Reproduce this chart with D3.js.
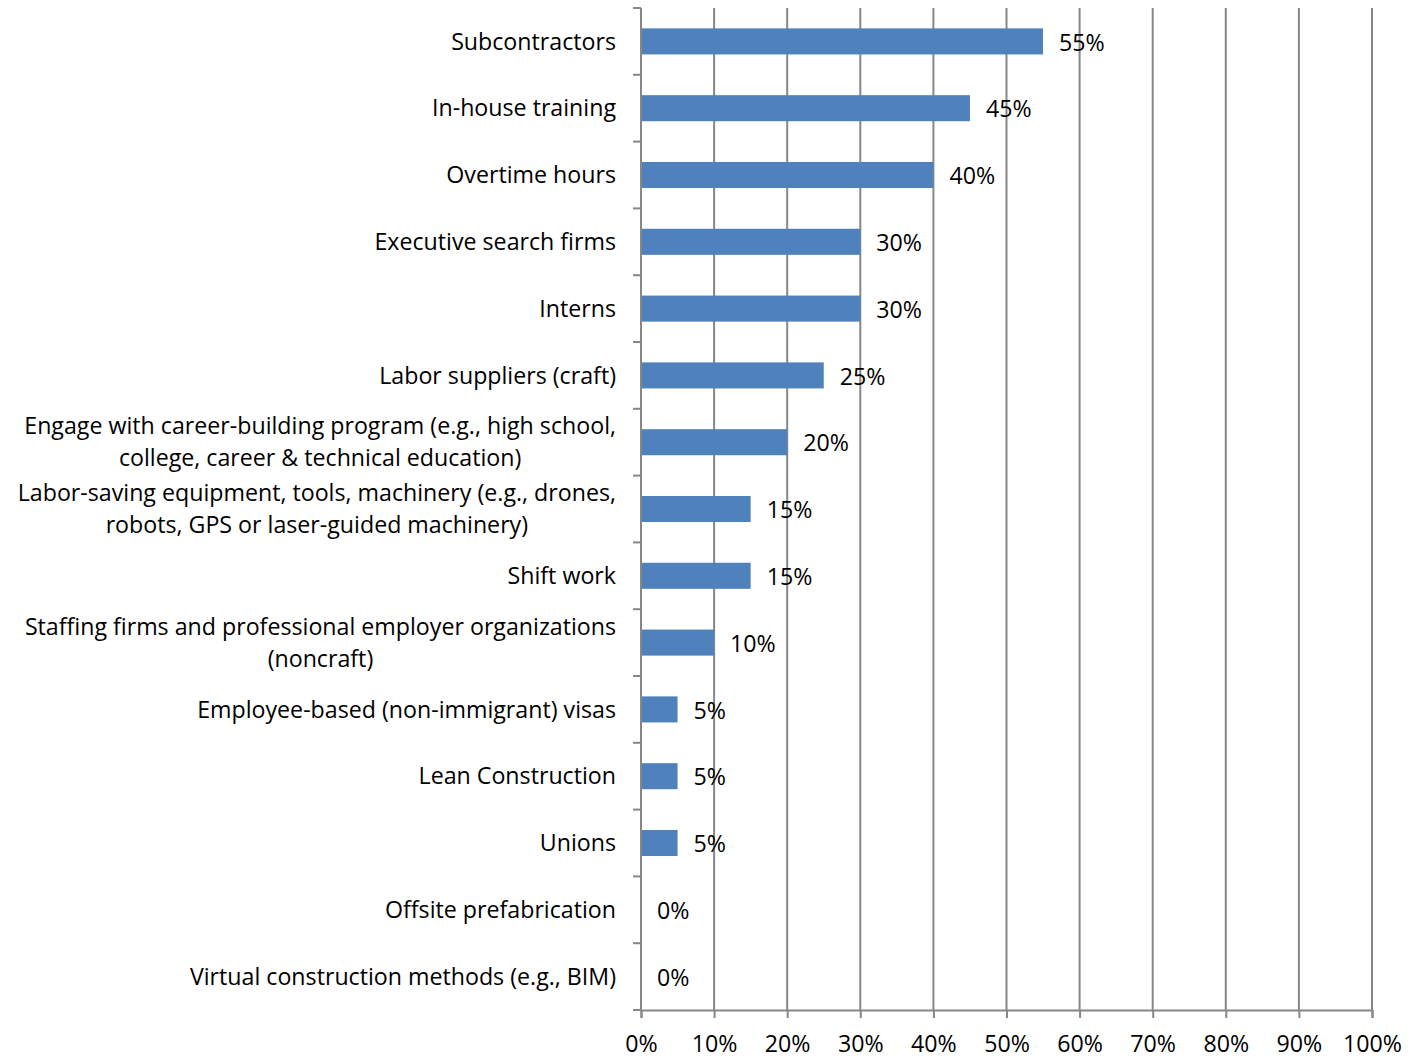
<!DOCTYPE html>
<html>
<head>
<meta charset="utf-8">
<script src="https://cdn.jsdelivr.net/npm/d3@7"></script>
<style>
  html, body { margin: 0; padding: 0; background: #fff; }
  svg text { font-family: "Open Sans", Lato, sans-serif; fill: #000; }
</style>
</head>
<body>
<svg id="chart" width="1418" height="1059"></svg>
<script>
// Recruiting / staffing strategies, share of respondents
const categories = [
  ["Subcontractors"],
  ["In-house training"],
  ["Overtime hours"],
  ["Executive search firms"],
  ["Interns"],
  ["Labor suppliers (craft)"],
  ["Engage with career-building program (e.g., high school,", "college, career & technical education)"],
  ["Labor-saving equipment, tools, machinery (e.g., drones,", "robots, GPS or laser-guided machinery)"],
  ["Shift work"],
  ["Staffing firms and professional employer organizations", "(noncraft)"],
  ["Employee-based (non-immigrant) visas"],
  ["Lean Construction"],
  ["Unions"],
  ["Offsite prefabrication"],
  ["Virtual construction methods (e.g., BIM)"]
];
const values = [55, 45, 40, 30, 30, 25, 20, 15, 15, 10, 5, 5, 5, 0, 0];
const xTicks = [0, 10, 20, 30, 40, 50, 60, 70, 80, 90, 100];

const svg = d3.select("#chart");
const margin = { left: 641, right: 46, top: 8, bottom: 49 };
const W = 1418, H = 1059;
const plotW = W - margin.left - margin.right;
const plotH = H - margin.top - margin.bottom;
const fontSize = 23.2;

const x = d3.scaleLinear().domain([0, 100]).range([margin.left, margin.left + plotW]);
const y = d3.scaleBand().domain(d3.range(categories.length))
  .range([margin.top, margin.top + plotH]).paddingInner(0.61).paddingOuter(0.305);
const band = d3.scaleBand().domain(d3.range(categories.length))
  .range([margin.top, margin.top + plotH]);

const gridColor = "#878787";

// vertical gridlines
svg.append("g").selectAll("line").data(xTicks.slice(1)).join("line")
  .attr("x1", d => x(d)).attr("x2", d => x(d))
  .attr("y1", margin.top).attr("y2", margin.top + plotH)
  .attr("stroke", gridColor).attr("stroke-width", 2);

// bars
svg.append("g").selectAll("rect").data(values).join("rect")
  .attr("x", x(0))
  .attr("y", (d, i) => y(i))
  .attr("width", d => x(d) - x(0))
  .attr("height", y.bandwidth())
  .attr("fill", "#4F81BD");

// value labels
svg.append("g").selectAll("text").data(values).join("text")
  .attr("x", d => x(d) + 16)
  .attr("y", (d, i) => y(i) + y.bandwidth() / 2 + 1)
  .attr("dy", "0.35em")
  .attr("font-size", fontSize)
  .text(d => d + "%");

// bottom axis
const xAxis = d3.axisBottom(x).tickValues(xTicks).tickFormat(d => d + "%").tickSize(8).tickPadding(18);
const gx = svg.append("g").attr("transform", `translate(0,${margin.top + plotH})`).call(xAxis);
gx.select(".domain").attr("stroke", gridColor).attr("stroke-width", 2);
gx.selectAll(".tick line").attr("stroke", gridColor).attr("stroke-width", 2);
gx.selectAll(".tick text").attr("font-size", fontSize).attr("font-family", "'Open Sans', Lato, sans-serif").attr("fill", "#000");

// left axis with category separators
const leftAxis = svg.append("g");
leftAxis.append("line")
  .attr("x1", x(0)).attr("x2", x(0))
  .attr("y1", margin.top).attr("y2", margin.top + plotH)
  .attr("stroke", gridColor).attr("stroke-width", 2);
leftAxis.selectAll("line.sep").data(d3.range(categories.length + 1)).join("line")
  .attr("class", "sep")
  .attr("x1", x(0) - 8).attr("x2", x(0))
  .attr("y1", i => margin.top + i * band.step())
  .attr("y2", i => margin.top + i * band.step())
  .attr("stroke", gridColor).attr("stroke-width", 2);

// category labels
const lineH = 32;
const lbl = svg.append("g").selectAll("text").data(categories).join("text")
  .attr("text-anchor", "middle")
  .attr("font-size", fontSize)
  .attr("y", (d, i) => band(i) + band.bandwidth() / 2);
lbl.each(function (lines, i) {
  const t = d3.select(this);
  const n = lines.length;
  // multi-line labels are centred within their own block
  lines.forEach((s, k) => {
    t.append("tspan")
      .attr("y", band(i) + band.bandwidth() / 2 + (k - (n - 1) / 2) * lineH)
      .attr("dy", "0.35em")
      .text(s);
  });
});
// right-align the label block at a fixed gap from the axis, keeping lines centred
lbl.each(function () {
  const t = d3.select(this);
  const wmax = d3.max(t.selectAll("tspan").nodes(), n => n.getComputedTextLength());
  t.selectAll("tspan").attr("x", x(0) - 25 - wmax / 2);
});
</script>
</body>
</html>
